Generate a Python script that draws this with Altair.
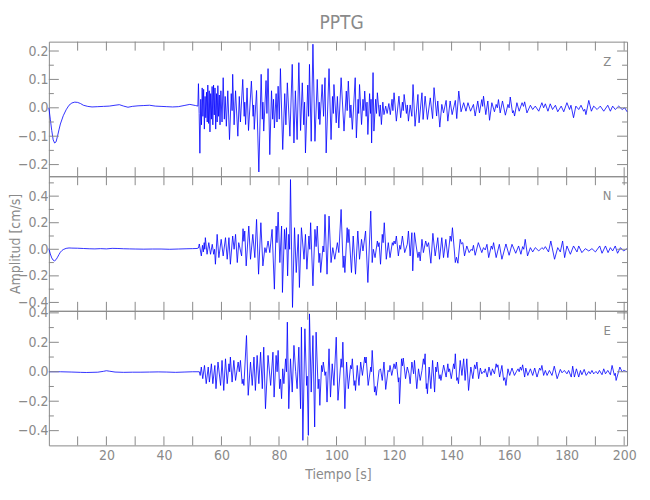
import altair as alt
import pandas as pd

# ---------------- data (time s, amplitude cm/s) ----------------
z_early = [(0.0, 0.0), (0.5, -0.04), (1.0, -0.08), (1.5, -0.113), (2.0, -0.124), (2.5, -0.12), (3.0, -0.1),
           (3.5, -0.078), (4.0, -0.057), (5.0, -0.028), (6.0, -0.007), (7.0, 0.009), (8.0, 0.017), (9.0, 0.02),
           (10.0, 0.019), (11.0, 0.015), (12.0, 0.009), (13.5, 0.005), (15.0, 0.003), (17.0, 0.004), (19.0, 0.005),
           (21.0, 0.006), (23.0, 0.009), (24.5, 0.011), (26.0, 0.006), (27.5, 0.002), (29.0, 0.005), (31.0, 0.007),
           (33.0, 0.008), (35.0, 0.009), (37.0, 0.006), (39.0, 0.005), (41.0, 0.004), (43.0, 0.003), (45.0, 0.004),
           (47.0, 0.008), (49.0, 0.012), (51.0, 0.008), (51.8, 0.006)]

z_active = [(52.0, 0.085), (52.25, -0.02), (52.5, -0.16), (52.8, 0.03), (53.05, -0.06), (53.3, 0.07), (53.55, -0.03),
            (53.8, 0.065), (54.05, -0.075), (54.3, 0.04), (54.55, -0.035), (54.8, 0.055), (55.05, -0.05), (55.25, 0.08),
            (55.5, -0.055), (55.75, 0.06), (56.0, -0.085), (56.25, 0.05), (56.5, -0.04), (56.75, 0.075), (57.0, -0.06),
            (57.25, 0.08), (57.5, -0.025), (57.75, 0.07), (58.0, -0.075), (58.25, 0.05), (58.5, -0.05), (58.75, 0.078),
            (59.0, -0.03), (59.25, 0.045), (59.5, -0.06), (59.8, 0.06), (60.2, -0.05), (60.6, 0.106), (61.0, -0.04),
            (61.3, 0.04), (61.7, -0.065), (62.2, 0.06), (62.8, -0.112), (63.4, 0.05), (63.7, -0.01), (63.9, 0.118),
            (64.4, -0.06), (64.9, 0.06), (65.7, -0.10), (66.2, 0.04), (66.6, -0.05), (67.4, 0.10), (67.9, -0.03),
            (68.1, 0.02), (68.4, -0.059), (68.9, 0.07), (69.4, -0.08), (70.4, 0.094), (71.0, -0.03), (71.2, 0.01),
            (71.4, -0.076), (72.2, 0.061), (73.0, -0.226), (73.8, 0.118), (74.2, -0.04), (74.4, 0.02), (74.7, -0.082),
            (75.5, 0.096), (75.8, -0.02), (76.2, 0.138), (76.8, -0.165), (77.4, 0.06), (77.8, -0.04), (78.1, 0.03),
            (78.4, -0.071), (79.0, 0.05), (79.3, -0.05), (79.7, 0.076), (80.1, -0.04), (80.5, 0.138), (81.3, -0.147),
            (82.0, 0.05), (82.4, -0.06), (82.9, 0.088), (83.8, -0.10), (84.6, 0.153), (85.2, -0.124), (85.7, 0.06),
            (86.3, -0.112), (86.9, 0.159), (87.5, -0.08), (88.1, 0.088), (88.6, -0.06), (88.9, 0.02), (89.2, -0.159),
            (90.0, 0.08), (90.3, -0.03), (90.6, 0.153), (91.2, -0.118), (91.8, 0.224), (92.5, -0.118), (93.3, 0.10),
            (93.8, -0.04), (94.0, 0.02), (94.2, -0.059), (95.0, 0.082), (95.5, -0.03), (96.0, 0.106), (96.4, -0.159),
            (97.4, 0.138), (98.1, -0.112), (98.6, 0.04), (98.9, -0.02), (99.1, 0.082), (99.9, -0.053), (100.3, 0.04),
            (100.8, -0.071), (101.6, 0.106), (102.6, -0.082), (103.4, 0.059), (103.7, -0.01), (104.1, 0.094),
            (104.7, -0.035), (105.0, 0.01), (105.5, -0.076), (106.5, 0.106), (106.9, -0.106), (107.5, 0.03),
            (107.7, -0.02), (108.0, 0.082), (108.7, -0.059), (109.2, 0.03), (109.5, -0.01), (109.8, 0.059),
            (110.3, -0.03), (110.6, 0.02), (110.9, -0.094), (111.5, 0.05), (111.8, -0.02), (112.0, 0.03),
            (112.2, -0.124), (112.7, 0.124), (113.0, -0.082), (113.6, 0.03), (113.9, -0.02), (114.2, 0.053),
            (114.9, -0.03), (115.2, 0.01), (115.6, -0.059), (116.1, 0.02), (116.5, -0.024), (117.1, 0.006),
            (117.6, -0.02), (118.2, 0.015), (118.7, -0.024), (119.3, 0.03), (119.6, -0.01), (120.0, 0.053),
            (120.8, -0.047), (121.7, 0.041), (122.3, -0.035), (122.9, 0.02), (123.2, -0.01), (123.5, 0.047),
            (124.3, -0.02), (124.6, 0.01), (125.0, -0.047), (125.6, 0.01), (126.2, -0.03), (126.6, 0.082),
            (127.3, -0.065), (128.3, 0.047), (128.7, -0.053), (129.7, 0.053), (130.1, -0.041), (130.8, 0.041),
            (131.6, -0.041), (132.6, 0.035), (133.4, -0.038), (133.9, 0.071), (134.8, -0.029), (135.2, 0.024),
            (135.9, -0.068), (136.6, 0.012), (137.2, -0.018), (138.1, 0.026), (138.7, -0.047), (139.5, 0.024),
            (140.2, -0.024), (141.3, 0.026), (141.8, -0.038), (142.5, 0.059), (143.3, -0.014), (144.2, 0.018),
            (145.0, -0.012), (145.7, 0.018), (146.6, -0.012), (147.6, 0.012), (148.2, -0.029), (149.1, 0.024),
            (149.7, -0.018), (150.5, 0.029), (150.8, 0.005), (151.1, 0.041), (151.9, -0.024), (152.6, 0.024),
            (153.2, -0.044), (154.0, 0.018), (154.9, -0.014), (155.5, 0.012), (155.9, 0.0), (156.3, 0.029),
            (156.9, -0.018), (157.7, 0.024), (158.7, -0.026), (159.6, 0.012), (160.0, 0.0), (160.4, 0.038),
            (161.2, -0.018), (161.5, -0.01), (161.9, -0.029), (162.7, 0.018), (163.5, -0.012), (164.5, 0.018),
            (165.0, 0.005), (165.4, 0.021), (166.2, -0.018), (167.4, 0.009), (168.2, -0.006), (169.1, 0.006),
            (170.3, -0.012), (171.4, 0.018), (172.0, 0.0), (172.6, 0.014), (173.5, -0.012), (174.3, 0.014),
            (175.1, -0.006), (176.1, 0.009), (176.9, -0.014), (178.1, 0.006), (179.0, -0.014), (180.1, 0.018),
            (181.0, -0.006), (181.5, 0.009), (182.4, -0.035), (183.2, 0.006), (184.2, -0.006), (185.0, 0.009),
            (185.9, -0.012), (186.3, -0.005), (186.7, -0.024), (187.7, 0.026), (188.6, -0.012), (189.4, 0.006),
            (190.6, -0.006), (191.7, 0.006), (192.9, -0.012), (194.3, 0.009), (195.2, -0.012), (196.0, 0.006),
            (196.9, -0.006), (198.1, 0.006), (199.3, -0.006), (200.2, 0.0), (201.0, -0.014)]

n_early = [(0.0, 0.005), (0.5, -0.035), (1.0, -0.065), (1.5, -0.082), (2.0, -0.087), (2.5, -0.078), (3.0, -0.06),
           (3.5, -0.04), (4.0, -0.022), (4.5, -0.01), (5.0, -0.002), (6.0, 0.007), (7.0, 0.01), (8.0, 0.009),
           (10.0, 0.008), (12.0, 0.006), (14.0, 0.004), (16.0, 0.003), (18.0, 0.005), (20.0, 0.003), (22.0, 0.007),
           (24.0, 0.006), (26.0, 0.004), (28.0, 0.003), (30.0, 0.002), (33.0, 0.001), (36.0, 0.002), (39.0, 0.002),
           (42.0, 0.0), (45.0, 0.002), (48.0, 0.004), (50.0, 0.005), (51.5, 0.006)]

n_active = [(52.0, 0.01), (52.3, 0.04), (53.0, -0.05), (53.4, 0.03), (53.7, -0.02), (54.0, 0.05), (54.2, 0.0),
            (54.4, 0.0875), (55.0, -0.0375), (55.6, 0.05), (56.2, -0.0375), (56.8, 0.0375), (57.3, -0.0375),
            (57.6, 0.0), (57.9, -0.1125), (58.5, 0.1125), (59.1, -0.0625), (59.9, 0.075), (60.6, -0.05),
            (61.4, 0.0875), (62.0, -0.075), (62.6, 0.0875), (63.1, -0.1125), (63.9, 0.1), (64.4, 0.0),
            (64.9, 0.1125), (65.5, -0.1), (66.0, 0.05), (67.0, -0.05), (67.5, 0.155), (67.8, 0.06), (68.1, 0.1375),
            (68.6, -0.125), (69.5, 0.175), (70.1, -0.075), (70.9, 0.1125), (71.6, -0.0625), (72.2, 0.225),
            (72.9, -0.1875), (73.7, 0.2), (74.4, -0.125), (75.1, 0.0125), (75.5, -0.025), (76.2, 0.0625),
            (76.8, -0.025), (77.6, 0.15), (78.4, -0.3), (79.0, 0.175), (79.3, 0.05), (79.7, 0.28), (80.3, -0.1),
            (80.9, 0.175), (81.2, -0.325), (81.9, 0.15), (82.2, 0.0), (82.6, 0.1625), (83.0, -0.2), (83.4, 0.1125),
            (83.7, 0.0), (84.0, 0.525), (84.7, -0.4375), (85.4, 0.1625), (86.0, -0.175), (86.7, 0.1125),
            (87.1, -0.2875), (87.8, 0.1625), (88.7, -0.075), (89.2, 0.1125), (89.7, -0.15), (90.4, 0.1), (90.7, 0.0),
            (91.0, 0.2), (91.8, -0.275), (92.5, 0.15), (92.9, 0.02), (93.3, 0.175), (93.9, -0.1), (94.2, -0.03),
            (94.5, -0.175), (95.3, 0.025), (95.6, -0.02), (96.0, 0.2625), (96.7, -0.1875), (97.4, 0.25),
            (98.1, -0.1), (98.7, 0.0125), (99.4, -0.075), (100.3, 0.05), (100.8, -0.025), (101.6, 0.3),
            (102.3, -0.1375), (102.6, -0.05), (102.9, -0.175), (103.7, 0.1625), (104.0, 0.05), (104.3, 0.15),
            (105.2, -0.175), (105.8, 0.1), (106.6, -0.1875), (107.4, 0.1375), (108.0, -0.075), (108.7, 0.075),
            (109.2, -0.0125), (110.1, 0.1375), (110.9, -0.25), (111.9, 0.2875), (112.4, -0.1), (112.8, 0.0),
            (113.4, -0.0625), (114.2, 0.0625), (114.5, 0.02), (114.8, 0.05), (115.3, -0.1125), (115.9, 0.1125),
            (116.2, 0.05), (116.6, 0.2), (117.3, -0.075), (118.0, 0.05), (118.6, -0.0625), (119.4, 0.05),
            (119.7, 0.03), (120.0, 0.0625), (120.4, 0.04), (120.8, 0.1), (121.5, -0.05), (122.0, 0.03),
            (122.3, 0.0), (122.9, 0.1), (123.7, -0.025), (124.6, 0.0375), (125.0, 0.1375), (125.6, -0.05),
            (126.2, 0.125), (126.5, -0.1625), (127.1, 0.125), (127.7, 0.025), (128.3, -0.0625), (128.7, -0.02),
            (129.1, -0.0875), (129.7, 0.075), (130.2, -0.025), (131.0, 0.0625), (131.5, 0.02), (132.0, 0.05),
            (132.8, -0.105), (133.5, 0.12), (134.3, -0.05), (135.2, 0.0875), (135.8, -0.075), (136.6, 0.0875),
            (137.2, -0.0625), (138.0, 0.075), (138.7, -0.0625), (139.5, 0.1), (139.9, 0.06), (140.3, 0.1625),
            (141.3, -0.1), (141.7, -0.06), (142.2, -0.105), (143.0, 0.075), (143.4, 0.04), (143.9, 0.05),
            (144.5, -0.05), (145.3, 0.025), (146.1, -0.025), (146.8, 0.0), (147.2, -0.01), (147.6, 0.03),
            (148.2, -0.045), (149.3, 0.05), (150.5, -0.025), (151.1, 0.0125), (151.7, -0.005), (152.3, 0.0375),
            (152.9, -0.0625), (153.8, 0.025), (154.2, 0.0), (154.6, 0.05), (155.5, -0.0625), (156.6, 0.0375),
            (157.5, -0.075), (158.9, 0.04), (160.0, -0.045), (161.0, 0.0375), (162.3, -0.03), (163.3, 0.025),
            (164.1, -0.0375), (164.7, 0.02), (165.1, 0.0), (165.6, 0.075), (166.4, -0.05), (167.4, 0.0125),
            (168.2, -0.02), (169.1, 0.0125), (170.3, -0.0125), (171.4, 0.0125), (172.0, 0.0), (172.6, 0.02),
            (173.7, -0.02), (174.5, 0.0625), (175.8, -0.075), (176.9, 0.0125), (177.8, -0.02), (178.6, 0.0625),
            (179.3, -0.0625), (180.1, 0.025), (181.3, -0.0375), (182.4, 0.025), (183.6, -0.02), (184.2, 0.025),
            (185.3, -0.025), (186.5, 0.005), (187.7, -0.0125), (188.8, 0.005), (190.0, -0.02), (191.5, 0.025),
            (192.3, -0.03), (193.5, 0.025), (194.4, -0.025), (195.2, 0.0125), (196.0, -0.0125), (196.9, 0.025),
            (197.7, -0.03), (198.7, 0.0125), (199.8, -0.0125), (201.0, 0.005)]

e_early = [(0.0, 0.0), (4.0, 0.0), (8.0, -0.002), (11.0, -0.004), (13.0, -0.005), (15.0, -0.004), (17.0, -0.003),
           (19.0, 0.003), (20.0, 0.007), (21.0, 0.004), (23.0, -0.002), (26.0, -0.004), (29.0, -0.003),
           (32.0, -0.003), (35.0, -0.002), (38.0, -0.001), (41.0, -0.002), (44.0, -0.004), (47.0, -0.002),
           (50.0, 0.0), (52.3, 0.0)]

e_active = [(52.6, -0.025), (53.0, 0.032), (53.5, -0.047), (54.1, 0.043), (54.7, -0.081), (55.4, 0.032),
            (55.8, -0.07), (56.5, 0.054), (57.0, -0.081), (57.7, 0.043), (58.1, -0.115), (58.8, 0.066),
            (59.7, -0.093), (60.2, 0.077), (60.8, -0.127), (61.4, 0.088), (62.0, -0.081), (62.6, 0.054),
            (62.85, 0.0), (63.1, 0.1), (63.7, -0.07), (64.3, 0.077), (64.9, -0.059), (65.8, 0.066), (66.2, 0.0),
            (66.6, 0.077), (67.2, -0.081), (67.5, -0.05), (67.8, -0.093), (68.7, 0.246), (69.3, -0.16),
            (70.1, 0.066), (70.7, -0.093), (71.3, 0.1), (71.8, -0.127), (72.4, 0.111), (73.0, -0.081),
            (73.6, 0.133), (74.2, -0.115), (74.7, 0.167), (75.3, -0.251), (76.2, 0.111), (77.1, -0.093),
            (77.9, 0.133), (78.3, -0.172), (79.0, 0.111), (79.35, 0.0), (79.7, 0.145), (80.2, -0.115),
            (80.5, -0.05), (80.9, -0.183), (81.3, 0.02), (81.7, -0.081), (82.3, 0.088), (82.6, 0.0), (82.9, 0.337),
            (83.4, -0.251), (84.0, 0.088), (84.6, -0.138), (85.2, 0.179), (85.8, 0.0), (86.3, -0.115),
            (86.9, 0.167), (87.5, -0.251), (87.8, 0.303), (88.3, -0.466), (89.0, 0.292), (89.6, -0.093),
            (89.8, -0.03), (90.2, -0.432), (90.6, 0.393), (91.2, -0.138), (91.8, 0.246), (92.4, -0.375),
            (92.9, 0.269), (93.6, -0.115), (93.9, -0.05), (94.2, -0.228), (94.8, 0.043), (95.1, 0.0),
            (95.4, 0.066), (96.0, -0.025), (96.3, 0.0), (96.7, -0.206), (97.4, 0.156), (97.9, -0.172),
            (98.5, 0.054), (99.1, -0.093), (99.9, 0.235), (100.5, -0.194), (101.6, 0.088), (101.9, 0.03),
            (102.2, 0.201), (102.9, -0.251), (103.5, 0.066), (104.1, -0.115), (104.9, 0.043), (105.2, 0.02),
            (105.5, 0.088), (106.1, -0.093), (106.4, -0.06), (106.6, -0.127), (107.2, 0.043), (107.8, -0.093),
            (108.4, 0.066), (109.0, -0.025), (109.8, 0.1), (110.05, 0.06), (110.3, 0.1), (111.0, -0.093),
            (111.9, 0.032), (112.1, 0.0), (112.4, 0.145), (113.2, -0.138), (113.5, -0.1), (113.8, -0.16),
            (114.8, 0.009), (115.3, 0.02), (115.9, -0.059), (116.5, 0.066), (117.1, -0.12), (117.9, 0.009),
            (118.3, 0.0), (118.6, 0.043), (119.2, -0.025), (120.0, 0.054), (120.4, 0.02), (120.8, 0.066),
            (121.5, -0.07), (121.7, -0.04), (121.9, -0.217), (122.6, 0.088), (122.9, 0.04), (123.2, 0.093),
            (124.0, -0.047), (124.6, 0.032), (125.2, -0.014), (125.6, -0.081), (126.2, 0.066), (126.8, -0.014),
            (127.1, 0.077), (127.9, -0.115), (128.5, 0.02), (129.1, -0.059), (129.7, 0.009), (130.2, 0.088),
            (130.5, 0.05), (130.8, 0.122), (131.2, -0.115), (131.4, -0.08), (131.6, -0.149), (132.2, 0.032),
            (132.8, -0.115), (133.4, 0.077), (134.1, -0.138), (134.5, 0.032), (134.8, 0.0), (135.1, 0.066),
            (135.7, -0.047), (136.0, -0.02), (136.3, -0.059), (137.25, 0.045), (138.1, -0.036), (138.7, 0.054),
            (139.0, 0.0), (139.3, 0.02), (139.9, -0.047), (140.7, 0.054), (141.0, 0.02), (141.3, 0.122),
            (141.8, -0.059), (142.1, -0.04), (142.4, -0.081), (143.0, 0.077), (143.6, -0.025), (144.2, 0.088),
            (144.7, -0.059), (145.3, 0.088), (145.9, -0.127), (146.7, 0.032), (147.4, -0.047), (148.0, 0.047),
            (148.4, 0.02), (148.8, 0.066), (149.4, -0.047), (150.0, 0.025), (150.5, -0.014), (151.1, 0.002),
            (151.4, -0.005), (151.7, 0.02), (152.4, -0.036), (153.0, 0.032), (153.7, -0.025), (154.2, 0.02),
            (154.9, -0.014), (155.5, 0.054), (155.8, 0.03), (156.1, 0.047), (156.7, -0.036), (157.5, 0.043),
            (158.1, -0.059), (158.5, -0.04), (158.9, -0.093), (159.6, 0.02), (160.2, -0.025), (161.0, 0.025),
            (161.85, -0.025), (162.5, 0.0), (163.1, 0.02), (163.5, 0.0), (163.9, 0.032), (164.3, 0.01),
            (164.7, 0.047), (165.4, -0.036), (165.8, 0.025), (166.5, -0.025), (167.4, 0.02), (168.2, -0.025),
            (168.9, 0.025), (169.7, -0.036), (170.6, 0.025), (171.0, 0.01), (171.4, 0.043), (172.0, -0.025),
            (172.6, 0.009), (173.2, -0.025), (174.0, 0.009), (174.9, -0.025), (175.7, 0.038), (176.7, -0.047),
            (177.8, 0.016), (178.4, -0.007), (179.2, 0.009), (180.1, -0.014), (180.7, 0.009), (181.6, -0.036),
            (182.1, 0.038), (182.7, -0.036), (183.4, 0.02), (184.2, -0.036), (184.8, 0.009), (185.3, -0.02),
            (186.1, 0.016), (186.8, -0.025), (187.7, 0.002), (188.2, -0.014), (188.8, 0.009), (189.4, -0.014),
            (190.2, 0.002), (190.8, -0.014), (191.4, 0.009), (192.3, -0.02), (192.9, 0.02), (193.5, -0.014),
            (194.3, 0.009), (195.2, -0.02), (195.8, 0.043), (196.6, -0.025), (196.9, -0.01), (197.2, -0.059),
            (198.5, 0.032), (199.3, -0.002), (199.8, 0.009), (201.0, 0.0)]

x_label_values = [20, 40, 60, 80, 100, 120, 140, 160, 180, 200]
x_tick_values = [10, 20, 30, 40, 50, 60, 70, 80, 90, 100, 110, 120, 130, 140, 150, 160, 170, 180, 190, 200]

z_major = [-0.2, -0.1, 0.0, 0.1, 0.2]
z_minor = [-0.15, -0.05, 0.05, 0.15]
n_major = [-0.4, -0.2, 0.0, 0.2, 0.4]
n_minor = [-0.3, -0.1, 0.1, 0.3, 0.5]
e_major = [-0.4, -0.2, 0.0, 0.2, 0.4]
e_minor = [-0.3, -0.1, 0.1, 0.3]

# ---------------- style ----------------
FONT = "Liberation Sans Narrow, DejaVu Sans Condensed, Liberation Sans, sans-serif"
GRAY = "#8a8a8a"
BLUE = "#0000ff"
W, H = 580, 135
X_DOMAIN = [0, 201]
MAJOR_LEN, MINOR_LEN, XTICK_LEN = 10, 5, 9


def panel(points, ydomain, ymajor, yminor, label, show_x, ytitle):
    df = pd.DataFrame(points, columns=["t", "v"])
    xscale = alt.Scale(domain=X_DOMAIN, nice=False, zero=False)
    yscale = alt.Scale(domain=ydomain, nice=False, zero=False)
    if show_x:
        xaxis = alt.Axis(values=x_label_values, ticks=False, domain=False, grid=False, labelPadding=3,
                         labelFlush=False, labelOverlap=False, title="Tiempo  [s]", titlePadding=5)
    else:
        xaxis = None
    if ytitle:
        yaxis = alt.Axis(values=ymajor, format=".1f", ticks=False, domain=False, grid=False, labelPadding=1,
                         labelFlush=False, labelOverlap=False, title=ytitle, titleX=-33, titleY=H / 2,
                         titleAngle=270, titleAlign="center", titleBaseline="middle")
    else:
        yaxis = alt.Axis(values=ymajor, format=".1f", ticks=False, domain=False, grid=False, labelPadding=1,
                         labelFlush=False, labelOverlap=False, title=None)

    X = alt.X("t:Q", scale=xscale, axis=xaxis)
    Y = alt.Y("v:Q", scale=yscale, axis=yaxis)

    line = alt.Chart(df).mark_line(color=BLUE, strokeWidth=0.8, interpolate="linear").encode(x=X, y=Y)

    xt = pd.DataFrame({"t": x_tick_values})
    xt_top = alt.Chart(xt).mark_rule(color=GRAY, strokeWidth=1).encode(
        x=X, y=alt.value(0), y2=alt.value(XTICK_LEN))
    xt_bot = alt.Chart(xt).mark_rule(color=GRAY, strokeWidth=1).encode(
        x=X, y=alt.value(H), y2=alt.value(H - XTICK_LEN))

    ymj = pd.DataFrame({"v": ymajor})
    ymn = pd.DataFrame({"v": yminor})
    layers = [line, xt_top, xt_bot]
    for dfv, ln in ((ymj, MAJOR_LEN), (ymn, MINOR_LEN)):
        layers.append(alt.Chart(dfv).mark_rule(color=GRAY, strokeWidth=1).encode(
            y=Y, x=alt.value(0), x2=alt.value(ln)))
        layers.append(alt.Chart(dfv).mark_rule(color=GRAY, strokeWidth=1).encode(
            y=Y, x=alt.value(W), x2=alt.value(W - ln)))

    lab = alt.Chart(pd.DataFrame({"label": [label]})).mark_text(
        font=FONT, fontSize=13, color=GRAY, align="center", baseline="middle").encode(
        x=alt.value(560), y=alt.value(20), text="label:N")
    layers.append(lab)

    return alt.layer(*layers).properties(width=W, height=H)


pz = panel(z_early + z_active, [-0.241, 0.233], z_major, z_minor, "Z", False, None)
pn = panel(n_early + n_active, [-0.463, 0.55], n_major, n_minor, "N", False, "Amplitud  [cm/s]")
pe = panel(e_early + e_active, [-0.50, 0.414], e_major, e_minor, "E", True, None)

chart = alt.vconcat(pz, pn, pe, spacing=0, bounds="flush").properties(
    title=alt.TitleParams("PPTG", anchor="middle", font=FONT, fontSize=19, fontWeight="normal",
                          color=GRAY, offset=8, dx=19),
    padding={"left": 0, "top": 5, "right": 5, "bottom": 5},
).configure_view(stroke=GRAY, strokeWidth=1).configure_axis(
    labelFont=FONT, labelFontSize=14, labelColor=GRAY,
    titleFont=FONT, titleFontSize=14, titleFontWeight="normal", titleColor=GRAY,
).configure_concat(spacing=0)

chart.save("out.html", embed_options={"renderer": "svg", "actions": False})
